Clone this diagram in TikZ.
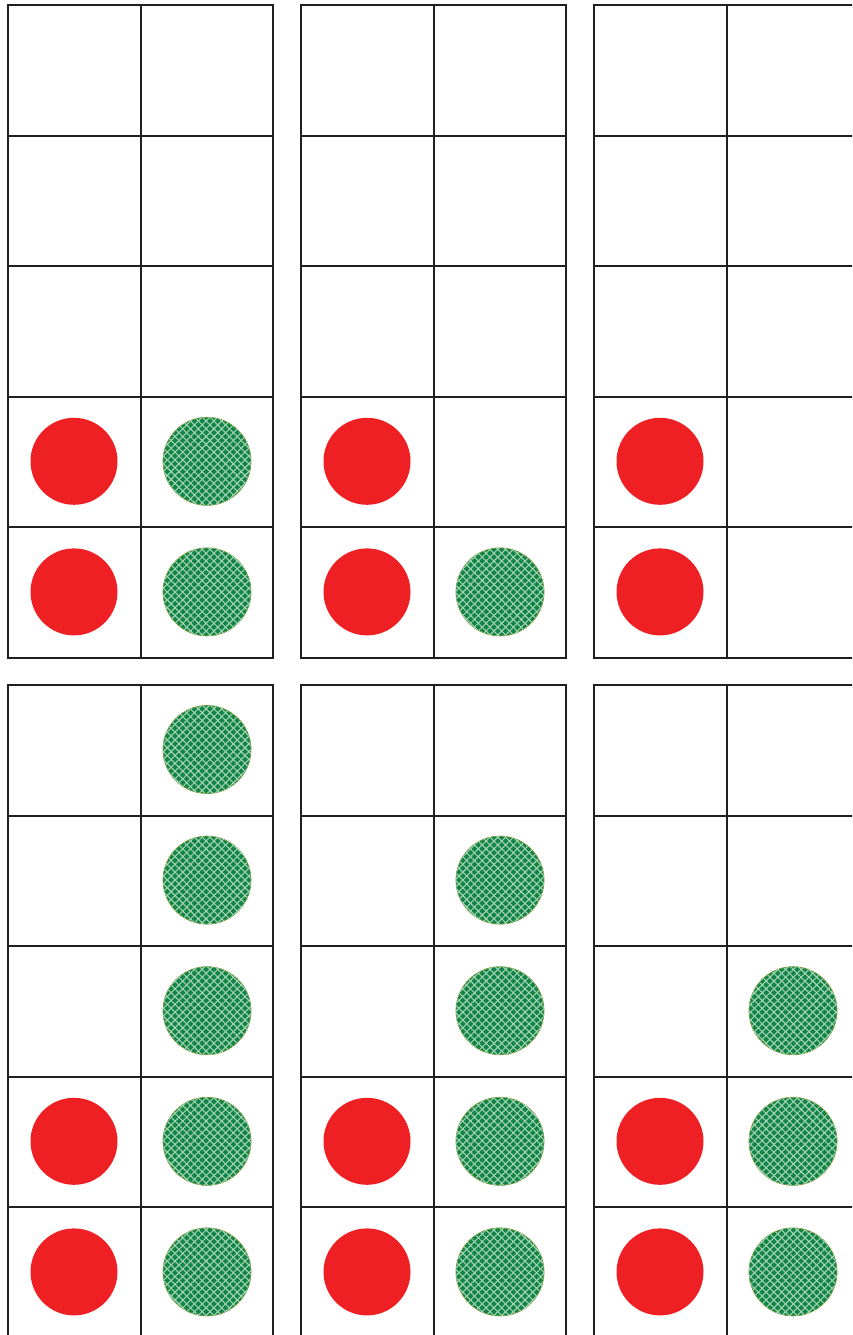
\documentclass[tikz,border=0pt]{standalone}
\usetikzlibrary{patterns.meta}

\definecolor{gridline}{RGB}{35,31,32}
\definecolor{counterred}{RGB}{238,32,36}
\definecolor{countergreen}{RGB}{18,132,70}
\definecolor{greenlattice}{RGB}{160,210,180}
\definecolor{greenedge}{RGB}{120,155,60}

\begin{document}
\begin{tikzpicture}[
    x=1pt, y=-1pt,
    frameline/.style={draw=gridline, line width=1.9pt},
    redcounter/.style={circle, fill=counterred, minimum size=87pt, inner sep=0pt},
    greencounter/.style={circle, draw=greenedge, line width=0.8pt, fill=countergreen, minimum size=88pt, inner sep=0pt,
        postaction={pattern={Lines[angle=45, distance=5.5pt, line width=1.1pt]}, pattern color=greenlattice},
        postaction={pattern={Lines[angle=-45, distance=5.5pt, line width=1.1pt]}, pattern color=greenlattice}},
]

%% CANVAS
    \useasboundingbox (0,0) rectangle (852,1335);
    \clip (0,0) rectangle (852,1335);

%% FRAMES
    % 3 across, 2 down, 2 columns x 5 rows each
    \foreach \i in {0,1,2} {
        \foreach \j in {0,1} {
            \begin{scope}[shift={(8+293*\i, 5+680*\j)}]
                \draw[frameline] (0,0) rectangle (265,653);
                \draw[frameline] (133,0) -- (133,653);
                \foreach \r in {1,...,4}
                    \draw[frameline] (0,130.6*\r) -- (265,130.6*\r);
            \end{scope}
        }
    }

%% COUNTERS
    % red counters: bottom two cells of the left column in every frame
    \foreach \i in {0,1,2} {
        \foreach \j in {0,1} {
            \foreach \r in {3,4}
                \node[redcounter] (red-\i-\j-\r) at (74+293*\i, 69.5+680*\j+130.6*\r) {};
        }
    }

    % green counters: right column, top frames
    \foreach \i/\r in {0/3, 0/4, 1/4}
        \node[greencounter] (green-\i-0-\r) at (207+293*\i, 69.5+130.6*\r) {};

    % green counters: right column, bottom frames
    \foreach \i/\r in {0/0, 0/1, 0/2, 0/3, 0/4, 1/1, 1/2, 1/3, 1/4, 2/2, 2/3, 2/4}
        \node[greencounter] (green-\i-1-\r) at (207+293*\i, 749.5+130.6*\r) {};

\end{tikzpicture}
\end{document}
